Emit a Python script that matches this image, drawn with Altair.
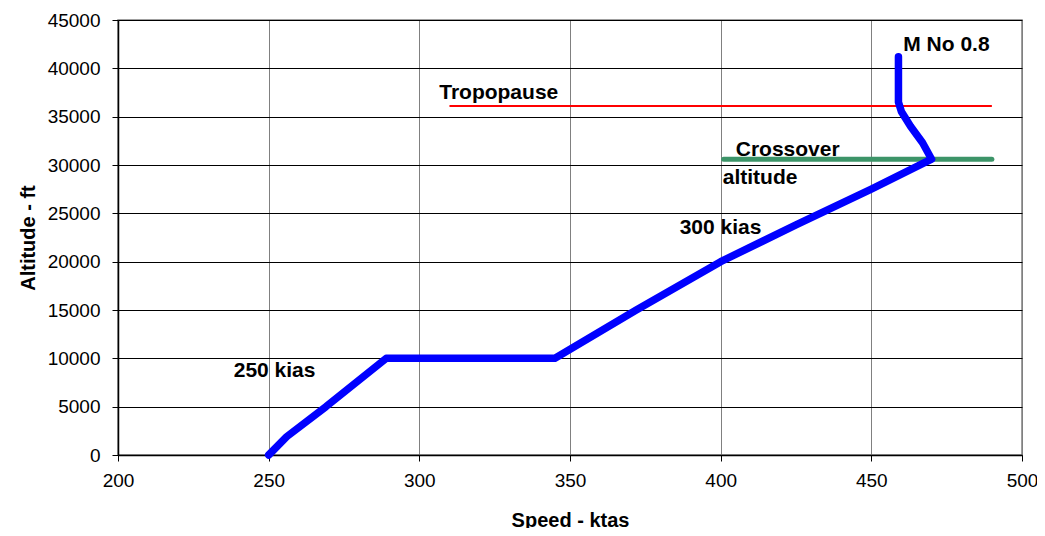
import altair as alt
import pandas as pd

# Climb profile (speed in ktas, altitude in ft)
speed = [250, 256, 269, 289, 345, 372, 400, 425, 450, 470, 467, 463, 460, 459, 459]
altitude = [0, 1900, 5000, 10000, 10000, 15000, 20000, 23800, 27500, 30600, 32300, 34000, 35500, 36500, 41200]

# Reference lines
trop_x = [310, 490]
trop_alt = 36100
cross_x = [401, 490]
cross_alt = 30600

# Annotations
label_text = ["M No 0.8", "Tropopause", "Crossover", "altitude", "300 kias", "250 kias"]
label_x = [460.6, 306.6, 405.0, 400.7, 386.4, 238.4]
label_y = [42400, 37450, 31550, 28650, 23480, 8690]

FONT = "Liberation Sans"

profile = pd.DataFrame({"speed": speed, "alt": altitude, "i": list(range(len(speed)))})
trop = pd.DataFrame({"speed": trop_x, "alt": [trop_alt] * 2})
cross = pd.DataFrame({"speed": cross_x, "alt": [cross_alt] * 2})
labels = pd.DataFrame({"t": label_text, "x": label_x, "y": label_y})

xscale = alt.Scale(domain=[200, 500], nice=False, zero=False)
yscale = alt.Scale(domain=[0, 45000], nice=False)

common = dict(labelFont=FONT, labelFontSize=19, labelColor="#000000",
              titleFont=FONT, titleFontSize=20, titleFontWeight="bold", titleColor="#000000",
              domainColor="#000000", domainWidth=1.5, tickColor="#000000", tickSize=6,
              format="d", labelFlush=False)

xaxis = alt.Axis(values=[200, 250, 300, 350, 400, 450, 500], title="Speed - ktas",
                 gridColor="#808080", gridWidth=1, labelPadding=10, titlePadding=20, **common)
yaxis = alt.Axis(values=list(range(0, 45001, 5000)), title="Altitude - ft",
                 gridColor="#000000", gridWidth=1, labelPadding=12, titlePadding=9, **common)

base_line = alt.Chart(profile).mark_line(color="#0000FF", strokeWidth=7.5, strokeCap="round",
                                         strokeJoin="round").encode(
    x=alt.X("speed:Q", scale=xscale, axis=xaxis),
    y=alt.Y("alt:Q", scale=yscale, axis=yaxis),
    order="i:Q",
)

trop_line = alt.Chart(trop).mark_line(color="#FF0000", strokeWidth=2).encode(
    x=alt.X("speed:Q", scale=xscale), y=alt.Y("alt:Q", scale=yscale))

cross_line = alt.Chart(cross).mark_line(color="#3C9468", strokeWidth=5, strokeCap="round").encode(
    x=alt.X("speed:Q", scale=xscale), y=alt.Y("alt:Q", scale=yscale))

text = alt.Chart(labels).mark_text(align="left", baseline="middle", font=FONT,
                                   fontWeight="bold", fontSize=21, color="#000000").encode(
    x=alt.X("x:Q", scale=xscale), y=alt.Y("y:Q", scale=yscale), text="t:N")

chart = alt.layer(trop_line, cross_line, base_line, text).properties(
    width=904, height=435,
    background="#FFFFFF",
    autosize=alt.AutoSizeParams(type="none"),
    padding={"left": 110, "top": 12, "right": 15, "bottom": 73},
).configure_view(stroke="#808080", strokeWidth=1.5)

chart.save("out.html", embed_options={"renderer": "svg", "actions": False})
